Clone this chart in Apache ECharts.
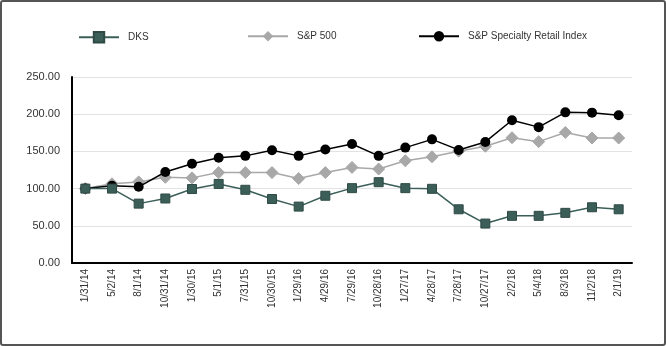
<!DOCTYPE html>
<html>
<head>
<meta charset="utf-8">
<script src="https://cdn.jsdelivr.net/npm/echarts@6/dist/echarts.min.js"></script>
<style>
  html, body { margin: 0; padding: 0; background: #fff; }
  #chart { width: 666px; height: 346px; box-sizing: border-box; border: 2px solid #555; border-radius: 3px; }
</style>
</head>
<body>
<div id="chart"></div>
<script>
// Cumulative total return, indexed to 100
const dates = ['1/31/14','5/2/14','8/1/14','10/31/14','1/30/15','5/1/15','7/31/15','10/30/15','1/29/16','4/29/16','7/29/16','10/28/16','1/27/17','4/28/17','7/28/17','10/27/17','2/2/18','5/4/18','8/3/18','11/2/18','2/1/19'];
const dks = [100.00, 100.00, 79.80, 86.70, 99.40, 106.30, 98.40, 86.00, 75.80, 90.40, 100.60, 108.60, 100.60, 99.70, 72.20, 53.00, 63.40, 63.40, 67.40, 74.90, 72.20];
const sp500 = [100.00, 106.40, 109.00, 115.20, 114.40, 121.50, 121.50, 121.50, 113.50, 121.50, 128.50, 126.30, 137.40, 142.70, 150.30, 156.90, 168.40, 163.10, 175.50, 168.00, 168.00];
const specialtyRetail = [100.00, 103.70, 102.40, 122.30, 133.40, 141.40, 144.00, 151.60, 144.00, 152.50, 160.00, 144.00, 155.10, 166.20, 152.00, 162.70, 191.90, 182.60, 202.50, 202.10, 198.60];
const yTicks = [0, 50, 100, 150, 200, 250];

const chart = echarts.init(document.getElementById('chart'));
const font = 'Liberation Sans, Arial, sans-serif';
const legendBase = {
  top: 24, itemWidth: 40, itemHeight: 13, itemGap: 0,
  textStyle: { fontFamily: font, fontSize: 10, color: '#333', padding: [0, 0, 0, 4] }
};
chart.setOption({
  animation: false,
  legend: [
    Object.assign({}, legendBase, { left: 71, data: ['DKS'] }),
    Object.assign({}, legendBase, { left: 240, data: ['S&P 500'] }),
    Object.assign({}, legendBase, { left: 411, data: ['S&P Specialty Retail Index'] })
  ],
  grid: { left: 70, right: 32, top: 75, bottom: 81 },
  xAxis: {
    type: 'category',
    data: dates,
    boundaryGap: true,
    axisLine: { lineStyle: { color: '#000', width: 2 } },
    axisTick: { alignWithLabel: true, length: 5, lineStyle: { color: '#555' } },
    axisLabel: { rotate: 90, fontFamily: font, fontSize: 10, color: '#333', margin: 6, interval: 0 }
  },
  yAxis: {
    type: 'value',
    min: yTicks[0], max: yTicks[yTicks.length - 1], interval: 50,
    axisLine: { show: true, lineStyle: { color: '#000', width: 2 } },
    axisTick: { show: false },
    splitLine: { lineStyle: { color: '#e3e3e3', width: 1 } },
    axisLabel: { fontFamily: font, fontSize: 11, color: '#333', margin: 12, formatter: v => v.toFixed(2) }
  },
  series: [
    {
      name: 'DKS', type: 'line', data: dks, z: 4,
      symbol: 'rect', symbolSize: 9,
      lineStyle: { color: '#3b5f58', width: 1.5 },
      itemStyle: { color: '#3b5f58', borderColor: '#2f4a45', borderWidth: 1 }
    },
    {
      name: 'S&P 500', type: 'line', data: sp500, z: 2,
      symbol: 'diamond', symbolSize: 12,
      lineStyle: { color: '#a8a8a8', width: 1.5 },
      itemStyle: { color: '#a8a8a8', borderColor: '#a8a8a8' }
    },
    {
      name: 'S&P Specialty Retail Index', type: 'line', data: specialtyRetail, z: 3,
      symbol: 'circle', symbolSize: 10,
      lineStyle: { color: '#000', width: 1.5 },
      itemStyle: { color: '#000' }
    }
  ]
});
</script>
</body>
</html>
